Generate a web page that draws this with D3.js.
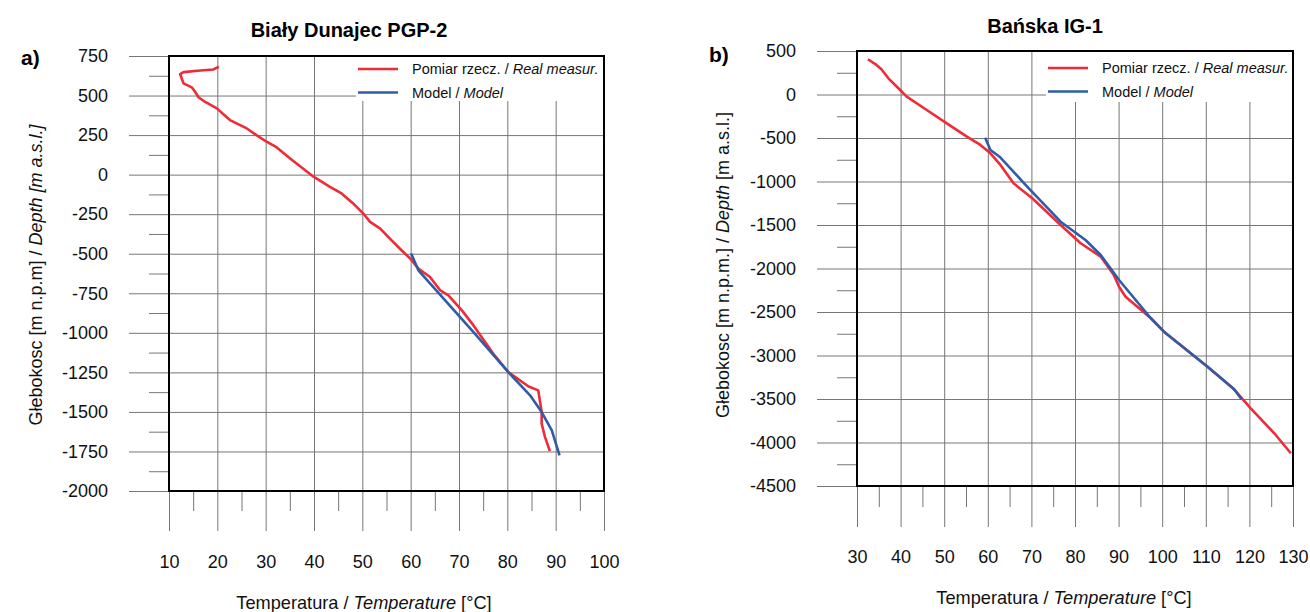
<!DOCTYPE html>
<html>
<head>
<meta charset="utf-8">
<script src="https://cdn.jsdelivr.net/npm/d3@7"></script>
<style>
  body { margin: 0; background: #fff; }
  svg { font-family: "Liberation Sans", Arial, sans-serif; }
</style>
</head>
<body>
<svg width="1310" height="612"></svg>
<script>
// panel a) Biały Dunajec PGP-2 : [temperature °C, depth m a.s.l.]
const dunajecReal = [
  [20.3, 682], [19.2, 665], [16.5, 658], [13.0, 648], [12.3, 636], [13.0, 577], [14.7, 552],
  [15.4, 524], [16.1, 489], [17.4, 461], [19.9, 419], [22.6, 345], [26.1, 292],
  [28.1, 250], [30.2, 208], [32.3, 172], [35.0, 103], [39.9, -13], [43.3, -77],
  [45.7, -119], [48.1, -182], [50.2, -246], [51.6, -299], [53.7, -341], [55.7, -404],
  [58.1, -478], [59.9, -530], [61.6, -594], [64.0, -647], [66.1, -731], [67.8, -763],
  [70.6, -858], [73.0, -953], [77.1, -1132], [80.2, -1248], [84.4, -1339], [86.4, -1364],
  [87.1, -1501], [87.1, -1575], [87.8, -1659], [88.8, -1748]
];
const dunajecModel = [
  [60.1, -499], [61.6, -605], [73.0, -995], [80.2, -1248], [84.7, -1395],
  [87.1, -1501], [89.2, -1617], [90.8, -1775]
];

// panel b) Bańska IG-1
const banskaReal = [
  [32.5, 405], [34.2, 350], [35.6, 290], [37.2, 186], [39.9, 52], [41.4, -25], [46.0, -178],
  [50.6, -331], [55.2, -485], [58.3, -580], [60.6, -676], [62.9, -810], [65.9, -1021],
  [70.2, -1193], [76.7, -1500], [81.3, -1710], [85.9, -1864], [87.0, -1940], [88.9, -2075],
  [90.1, -2209], [91.6, -2324], [94.3, -2439], [97.4, -2572], [100.4, -2726], [110.4, -3129],
  [116.5, -3389], [120.3, -3607], [125.7, -3894], [129.5, -4124]
];
const banskaModel = [
  [59.4, -496], [60.6, -638], [62.7, -715], [69.4, -1078], [76.7, -1462], [82.4, -1672],
  [85.9, -1845], [90.1, -2132], [97.4, -2572], [100.4, -2726], [110.4, -3129],
  [116.5, -3389], [118.2, -3503]
];

const dunajecTempTicks = [10, 20, 30, 40, 50, 60, 70, 80, 90, 100];
const dunajecDepthTicks = [750, 500, 250, 0, -250, -500, -750, -1000, -1250, -1500, -1750, -2000];
const banskaTempTicks = [30, 40, 50, 60, 70, 80, 90, 100, 110, 120, 130];
const banskaDepthTicks = [500, 0, -500, -1000, -1500, -2000, -2500, -3000, -3500, -4000, -4500];

const legendLabels = [["Pomiar rzecz. / ", "Real measur."], ["Model / ", "Model"]];
const RED = "#ee2b36", BLUE = "#2f5ca8", GRID = "#767676";

const svg = d3.select("svg");

function panel(c) {
  const g = svg.append("g");
  const x = d3.scaleLinear().domain(c.xDom).range([c.left, c.right]);
  const y = d3.scaleLinear().domain(c.yDom).range([c.bottom, c.top]);
  const yStep = c.yTicks[0] - c.yTicks[1], xStep = c.xTicks[1] - c.xTicks[0];
  const yMinor = c.yTicks.slice(1).map(d => d + yStep / 2);
  const xMinor = c.xTicks.slice(1).map(d => d - xStep / 2);

  // major horizontal grid + labels
  g.append("g").attr("transform", `translate(${c.right},0)`)
    .call(d3.axisLeft(y).tickValues(c.yTicks).tickSize(c.right - c.gridLeft)
      .tickPadding(21).tickFormat(d => String(d)))
    .call(a => a.select(".domain").remove());
  // minor y ticks outside
  g.append("g").attr("transform", `translate(${c.left},0)`)
    .call(d3.axisLeft(y).tickValues(yMinor).tickSize(20).tickFormat(""))
    .call(a => a.select(".domain").remove());
  // major vertical grid + labels
  g.append("g").attr("transform", `translate(0,${c.top})`)
    .call(d3.axisBottom(x).tickValues(c.xTicks).tickSize(c.gridBottom - c.top)
      .tickPadding(c.xLabelY - 6.5 - c.gridBottom).tickFormat(d => String(d)))
    .call(a => a.select(".domain").remove());
  // minor x ticks below the box
  g.append("g").attr("transform", `translate(0,${c.bottom})`)
    .call(d3.axisBottom(x).tickValues(xMinor).tickSize(c.minorBottom - c.bottom).tickFormat(""))
    .call(a => a.select(".domain").remove());

  g.selectAll(".tick line").attr("stroke", GRID).attr("stroke-width", 1);
  g.selectAll(".tick text").attr("font-size", 18).attr("fill", "#111")
    .attr("font-family", "'Liberation Sans', Arial, sans-serif");

  // legend background
  g.append("rect").attr("x", c.legX - 2).attr("y", c.top)
    .attr("width", c.right - c.legX + 2).attr("height", c.legBottom - c.top).attr("fill", "#fff");

  const line = d3.line().x(d => x(d[0])).y(d => y(d[1]));
  g.append("path").datum(c.real).attr("d", line).attr("fill", "none")
    .attr("stroke", RED).attr("stroke-width", 2.6).attr("stroke-linejoin", "round");
  g.append("path").datum(c.model).attr("d", line).attr("fill", "none")
    .attr("stroke", BLUE).attr("stroke-width", 2.6).attr("stroke-linejoin", "round");

  // box
  g.append("rect").attr("x", c.left).attr("y", c.top)
    .attr("width", c.right - c.left).attr("height", c.bottom - c.top)
    .attr("fill", "none").attr("stroke", "#000").attr("stroke-width", 2);

  // legend
  const leg = g.append("g");
  [RED, BLUE].forEach((col, i) => {
    const ly = c.legY + i * 23.5;
    leg.append("line").attr("x1", c.legX).attr("x2", c.legX + 40)
      .attr("y1", ly).attr("y2", ly).attr("stroke", col).attr("stroke-width", 2.6);
    const t = leg.append("text").attr("x", c.legX + 54).attr("y", ly + 5)
      .attr("font-size", 14.5).attr("fill", "#111");
    t.append("tspan").text(legendLabels[i][0]);
    t.append("tspan").attr("font-style", "italic").text(legendLabels[i][1]);
  });

  // titles
  g.append("text").attr("x", c.titleX).attr("y", c.titleY).attr("text-anchor", "middle")
    .attr("font-size", 20).attr("font-weight", "bold").text(c.title);
  g.append("text").attr("x", c.letterX).attr("y", c.letterY)
    .attr("font-size", 21).attr("font-weight", "bold").text(c.letter);

  const xt = g.append("text").attr("x", c.xTitleX).attr("y", c.xTitleY)
    .attr("text-anchor", "middle").attr("font-size", 18.2).attr("fill", "#111");
  xt.append("tspan").text("Temperatura / ");
  xt.append("tspan").attr("font-style", "italic").text("Temperature");
  xt.append("tspan").text(" [°C]");

  const yt = g.append("text").attr("transform", `translate(${c.yTitleX},${c.yTitleY}) rotate(-90)`)
    .attr("text-anchor", "middle").attr("font-size", 18).attr("fill", "#111");
  c.yTitle.forEach(p => {
    const s = yt.append("tspan").text(p[0]);
    if (p[1]) s.attr("font-style", "italic");
  });
}

panel({
  left: 169, right: 604, top: 56, bottom: 491,
  gridLeft: 129, gridBottom: 531, minorBottom: 511, xLabelY: 562,
  xDom: [10, 100], yDom: [-2000, 750],
  xTicks: dunajecTempTicks, yTicks: dunajecDepthTicks,
  real: dunajecReal, model: dunajecModel,
  legX: 358, legY: 69, legBottom: 101,
  title: "Biały Dunajec PGP-2", titleX: 349, titleY: 37,
  letter: "a)", letterX: 21, letterY: 65,
  xTitleX: 364, xTitleY: 608.5, yTitleX: 42, yTitleY: 275,
  yTitle: [["Głebokosc [m n.p.m] / ", false], ["Depth [m a.s.l.]", true]]
});

panel({
  left: 857, right: 1293, top: 51, bottom: 486,
  gridLeft: 817, gridBottom: 527, minorBottom: 507, xLabelY: 557,
  xDom: [30, 130], yDom: [-4500, 500],
  xTicks: banskaTempTicks, yTicks: banskaDepthTicks,
  real: banskaReal, model: banskaModel,
  legX: 1048, legY: 68, legBottom: 102,
  title: "Bańska IG-1", titleX: 1045, titleY: 33,
  letter: "b)", letterX: 709, letterY: 62,
  xTitleX: 1064, xTitleY: 603.5, yTitleX: 729, yTitleY: 265,
  yTitle: [["Głebokosc [m n.p.m.] / ", false], ["Depth", true], [" [m a.s.l.]", false]]
});
</script>
</body>
</html>
